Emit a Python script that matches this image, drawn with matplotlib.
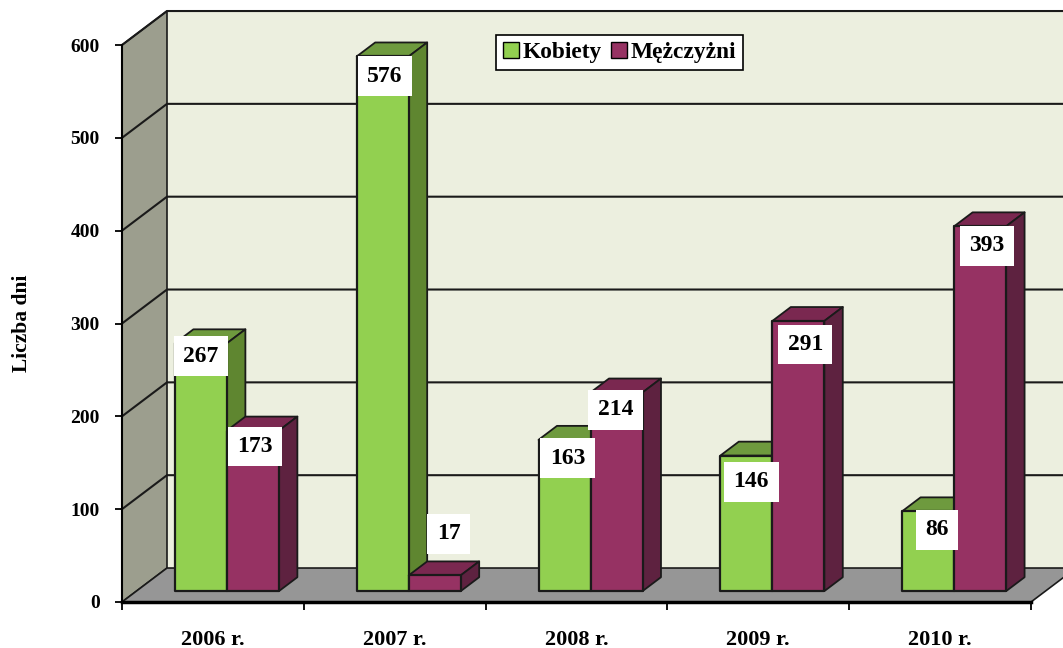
import matplotlib
matplotlib.use('Agg')
import matplotlib.pyplot as plt
from matplotlib.patches import Patch

years = ['2006 r.', '2007 r.', '2008 r.', '2009 r.', '2010 r.']
kobiety = [267, 576, 163, 146, 86]
mezczyzni = [173, 17, 214, 291, 393]
y_ticks = [0, 100, 200, 300, 400, 500, 600]

# przesuniecia etykiet wzgledem gory slupka, w pikselach
k_label_dx = [0, 2, 3, 5, 9]
k_label_dy = [13, 20, 18.5, 26, 18.5]
m_label_dx = [2, 14, -1, 7, 7]
m_label_dy = [16, -41.5, 17.5, 23.5, 19.5]

GREEN, GREEN_TOP, GREEN_SIDE = '#92D050', '#6E9A3E', '#5F8630'
MAROON, MAROON_TOP, MAROON_SIDE = '#963263', '#7A2850', '#5E2240'
WALL, SIDE_WALL, FLOOR = '#ECEFDF', '#9C9E8E', '#969696'
LINE = '#1a1a1a'

plt.rcParams['font.family'] = ['Liberation Serif', 'DejaVu Serif']
plt.rcParams['font.weight'] = 'bold'

DX = 0.2475  # glebokosc wykresu w jednostkach osi x
DY = 36.6    # glebokosc wykresu w jednostkach osi y
D1, D2 = 0.32, 0.73
BAR_W = 0.286
BAR_START = 0.212


def pr(x, y, d):
    return x + DX * d, y + DY * d


def poly(ax, pts, color, edge=LINE, lw=1.3, z=2):
    xs = [p[0] for p in pts]
    ys = [p[1] for p in pts]
    ax.fill(xs, ys, facecolor=color, edgecolor=edge, linewidth=lw, zorder=z,
            clip_on=False, joinstyle='round')


def bar3d(ax, x, v, front, top, side, z):
    x2 = x + BAR_W
    poly(ax, [pr(x, v, D1), pr(x2, v, D1), pr(x2, v, D2), pr(x, v, D2)], top, z=z)
    poly(ax, [pr(x2, 0, D1), pr(x2, 0, D2), pr(x2, v, D2), pr(x2, v, D1)], side, z=z)
    poly(ax, [pr(x, 0, D1), pr(x2, 0, D1), pr(x2, v, D1), pr(x, v, D1)], front, lw=1.6, z=z)


def label(ax, x, v, txt, dx, dy):
    px, py = pr(x + BAR_W / 2, v, D1)
    ax.annotate(str(txt), (px, py), xytext=(dx * 0.72, -dy * 0.72),
                textcoords='offset points', ha='center', va='center',
                fontsize=17, fontweight='bold', color='black', zorder=20,
                bbox=dict(boxstyle='square,pad=0.4', fc='white', ec='none'))


fig = plt.figure(figsize=(10.63, 6.48), dpi=100, facecolor='white')
ax = fig.add_axes([122 / 1063, 46 / 648, 909 / 1063, 557 / 648])
ax.set_xlim(0, 5)
ax.set_ylim(0, 600)
ax.patch.set_visible(False)

# sciany i podloga
poly(ax, [pr(0, 0, 1), pr(5, 0, 1), pr(5, 600, 1), pr(0, 600, 1)], WALL, edge='none', lw=0, z=0)
poly(ax, [pr(0, 0, 0), pr(0, 0, 1), pr(0, 600, 1), pr(0, 600, 0)], SIDE_WALL, lw=1.2, z=0)
poly(ax, [pr(0, 0, 0), pr(5, 0, 0), pr(5, 0, 1), pr(0, 0, 1)], FLOOR, lw=1.2, z=1)

for t in y_ticks[1:]:
    x0, y0 = pr(0, t, 0)
    x1, y1 = pr(0, t, 1)
    x2, y2 = pr(5, t, 1)
    ax.plot([x0, x1, x2], [y0, y1, y2], color=LINE, lw=1.5, zorder=1, clip_on=False)

for i in range(len(years)):
    x = i + BAR_START
    bar3d(ax, x, kobiety[i], GREEN, GREEN_TOP, GREEN_SIDE, 3 + i * 2)
    bar3d(ax, x + BAR_W, mezczyzni[i], MAROON, MAROON_TOP, MAROON_SIDE, 4 + i * 2)
    label(ax, x, kobiety[i], kobiety[i], k_label_dx[i], k_label_dy[i])
    label(ax, x + BAR_W, mezczyzni[i], mezczyzni[i], m_label_dx[i], m_label_dy[i])

for s in ['top', 'right']:
    ax.spines[s].set_visible(False)
ax.spines['left'].set_linewidth(1.5)
ax.spines['bottom'].set_linewidth(2.5)
ax.spines['left'].set_zorder(2)
ax.spines['bottom'].set_zorder(2)

ax.set_yticks(y_ticks)
ax.set_yticklabels([str(t) for t in y_ticks], fontsize=14, fontweight='bold')
ax.tick_params(axis='y', length=5, width=1.3, pad=11)
ax.set_xticks(range(6))
ax.set_xticklabels([])
ax.tick_params(axis='x', which='major', length=6, width=1.3)
ax.set_xticks([i + 0.5 for i in range(5)], minor=True)
ax.set_xticklabels(years, minor=True, fontsize=16, fontweight='bold')
ax.tick_params(axis='x', which='minor', length=0, pad=20)
ax.set_ylabel('Liczba dni', fontsize=15.5, fontweight='bold', labelpad=28)

handles = [Patch(facecolor=GREEN, edgecolor='black', label='Kobiety'),
           Patch(facecolor=MAROON, edgecolor='black', label='Mężczyżni')]
leg = ax.legend(handles=handles, ncol=2, loc='center', fancybox=False, framealpha=1,
                bbox_to_anchor=((619.5 - 122) / 909, (602 - 52.5) / 557),
                prop=dict(size=16.8, weight='bold'), edgecolor='black',
                handlelength=0.7, handleheight=0.7, handletextpad=0.15,
                columnspacing=0.4, borderpad=0.3, borderaxespad=0)
leg.set_zorder(30)
leg.get_frame().set_linewidth(1.2)

fig.savefig('out.png', dpi=100)
